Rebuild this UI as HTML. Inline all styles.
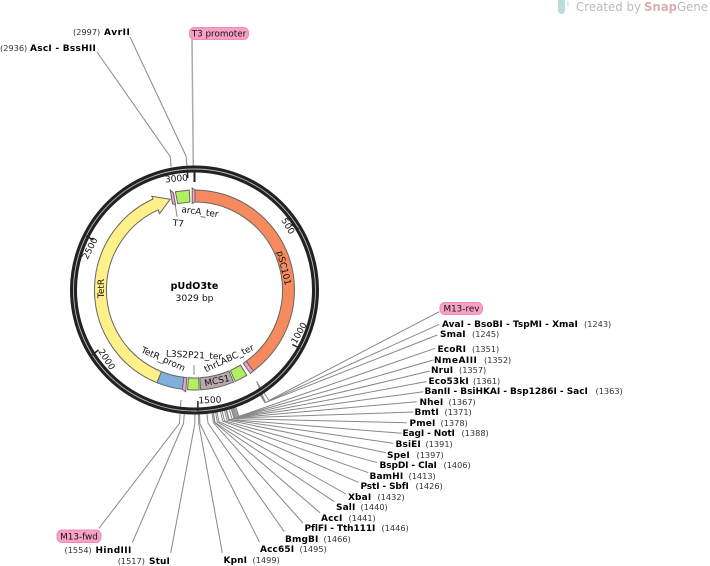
<!DOCTYPE html>
<html><head><meta charset="utf-8"><style>
html,body{margin:0;padding:0;background:#fff}
svg{display:block}
text{font-family:"DejaVu Sans","Liberation Sans",sans-serif;font-size:9px;fill:#111}
.b{font-weight:bold;fill:#000;letter-spacing:.12px}
.n{fill:#333;font-size:8.2px}
.c{text-anchor:middle}
.l{fill:none;stroke:#888;stroke-width:1}
.f{stroke:#666;stroke-width:1}
</style></head><body>
<svg width="710" height="566" viewBox="0 0 710 566" xmlns="http://www.w3.org/2000/svg">
<!-- watermark -->
<path d="M558 0h7v11q-1 3-3.500 3t-3.500-3z" fill="#bcdcdc"/><rect x="567" y="1" width="1.500" height="5" fill="#d5e5e5"/>
<text x="576" y="11" textLength="65" lengthAdjust="spacingAndGlyphs" style="font-size:12px;fill:#bbb">Created by</text>
<text x="644" y="11" textLength="33" lengthAdjust="spacingAndGlyphs" style="font-size:12px;font-weight:bold;fill:#dcaeae">Snap</text>
<text x="677" y="11" textLength="31" lengthAdjust="spacingAndGlyphs" style="font-size:12px;fill:#bbb">Gene</text>
<!-- connectors -->
<g class="l">
<path d="M192 39L193.300 166" stroke="#aaa" stroke-width="1.500"/>
<path d="M130 37L186 156L187 166"/>
<path d="M97 52L170.500 157L171 167"/>
<path d="M99 528.300L179.500 423.300L181 400"/>
<path d="M132.300 542.700L183.500 423.500L184.300 413.600"/>
<path d="M170.700 553L194.800 424L195 414"/>
<path d="M222.300 552.700L198.800 424L198.500 414"/>
<path d="M259.300 541.700L199.900 424L199.500 414"/>
<path d="M284.300 531.700L208.100 423.300L206.800 413.400"/>
<path d="M303 523L213.400 422.700L212 412.800"/>
<path d="M320 512.700L214.700 422.500L213.200 412.600"/>
<path d="M334.300 501.700L215 422.400L213.500 412.500"/>
<path d="M346 494L217.300 422L215.600 412.100"/>
<path d="M358.300 482.300L218.900 421.700L217 411.900"/>
<path d="M368.300 472.700L222.600 421.100L220.500 411.300"/>
<path d="M377.300 462.700L224.400 420.700L222.200 410.900"/>
<path d="M386 452.700L226.900 420L224.500 410.300"/>
<path d="M393.300 443.300L228.500 419.600L226 409.900"/>
<path d="M401.700 433.300L229.200 419.400L226.600 409.800"/>
<path d="M406.700 422.700L231.900 418.600L229.100 409"/>
<path d="M413.300 412L233.900 418.100L231 408.500"/>
<path d="M416.700 401.700L234.800 417.800L231.800 408.300"/>
<path d="M423.300 391.700L235.900 417.400L232.800 407.900"/>
<path d="M426.700 381.500L236.300 417.300L233.200 407.800"/>
<path d="M430 371L237.500 416.900L234.300 407.400"/>
<path d="M433.300 360L238.700 416.500L235.400 407"/>
<path d="M435 348.300L239 416.400L235.700 407"/>
<path d="M437.300 335L265 402.800L260.200 395.200"/>
<path d="M439.300 324.300L265.500 402.400L260.800 394.800"/>
<path d="M439.300 311.700L269 400.500L256.500 381.500"/>
<path d="M265.500 402.400L256.700 381.700"/>
<path d="M175 203L177 216.700"/>
<path d="M194 365V375"/>
</g>
<!-- backbone -->
<circle cx="194.500" cy="290" r="121" fill="none" stroke="#222" stroke-width="7"/>
<circle cx="194.500" cy="290" r="121" fill="none" stroke="#bbb" stroke-width="0.900"/>
<!-- ticks -->
<g stroke="#222" stroke-width="1.500">
<path d="M194.500 172V182" stroke-width="2"/>
<path d="M187.300 169.500L187.800 178"/>
<path d="M298.600 229L291 224.500"/>
<path d="M300.500 348.500L292.300 344.500"/>
<path d="M197.900 411V401"/>
<path d="M92 355L98.500 350"/>
<path d="M86 236L93.500 240"/>
</g>
<!-- features -->
<g class="f">
<path d="M157 382.700A100 100 0 0 1 153 199L151.800 196.300L170.200 199.200L159.600 213.600L158 209.900A88 88 0 0 0 161.500 371.600Z" fill="#fff08a"/>
<path d="M195 190A100 100 0 0 1 253.300 370.900L246.200 361.200A88 88 0 0 0 195 202Z" fill="#f58a5e"/>
<path d="M192.200 188L195 190V202L192.200 203.500Z" fill="#f5a0cc"/>
<path d="M175.400 191.800L189.300 190.100L189.900 202.100L177.700 203.600Z" fill="#b0f060"/>
<path d="M170.300 190L173.500 193L175.500 204.500L172.500 204Z" fill="#f5a0cc"/>
<path d="M246.200 361.200L253.300 370.900L250.500 373.500L243.300 363.500Z" fill="#f5a0cc"/>
<path d="M246.800 375.300A100 100 0 0 1 235.200 381.400L230.300 370.400A88 88 0 0 0 240.500 365.100Z" fill="#b0f060"/>
<path d="M233.600 382.100A100 100 0 0 1 200.600 389.800L199.900 377.800A88 88 0 0 0 228.900 371Z" fill="#b8aaaa"/>
<path d="M199.200 389.900A100 100 0 0 1 187.500 389.800L188.400 377.800A88 88 0 0 0 198.600 377.900Z" fill="#b0f060"/>
<path d="M185.700 391.700L182.300 389.300L183.800 377.300L186.800 377.700Z" fill="#f5a0cc"/>
<path d="M182.300 389.300A100 100 0 0 1 157 382.700L161.500 371.600A88 88 0 0 0 183.800 377.300Z" fill="#7fb0dc"/>
</g>
<!-- tick labels -->
<text class="c" transform="translate(176.700 181.500) rotate(-5)">3000</text>
<text class="c" transform="translate(288 226) rotate(59) translate(0 3)">500</text>
<text class="c" transform="translate(299 333) rotate(-61) translate(0 3)">1000</text>
<text class="c" transform="translate(210 403) rotate(-2)">1500</text>
<text class="c" transform="translate(106.700 359.300) rotate(57) translate(0 3)">2000</text>
<text class="c" transform="translate(90 248.300) rotate(-63) translate(0 3)">2500</text>
<!-- feature labels -->
<text class="c" transform="translate(200 211.700) rotate(8) translate(0 3)">arcA_ter</text>
<text class="c" transform="translate(178.300 223.300) rotate(5) translate(0 3)">T7</text>
<text class="c" transform="translate(284 268) rotate(76) translate(0 3)">pSC101</text>
<text class="c" transform="translate(101 288.500) rotate(-90) translate(0 3)">TetR</text>
<text class="c" transform="translate(217 380.700) rotate(-12) translate(0 3)">MCS1</text>
<text class="c" transform="translate(163.300 359) rotate(24) translate(0 3)">TetR_prom</text>
<text class="c" transform="translate(194 355) rotate(3) translate(0 3)">L3S2P21_ter</text>
<text class="c" transform="translate(229 358.300) rotate(-25) translate(0 3)">thrLABC_ter</text>
<text class="c b" x="194.500" y="289" style="font-size:9.500px">pUdO3te</text>
<text class="c" x="194.500" y="301" style="font-size:9.200px">3029 bp</text>
<!-- pills -->
<g fill="#f7a1c4" stroke="#f28ab6">
<rect x="189.500" y="27.500" width="59" height="12" rx="5"/>
<rect x="440" y="302.500" width="42.500" height="12" rx="5"/>
<rect x="57" y="530" width="44" height="12.500" rx="5"/>
</g>
<text class="c" x="219" y="36.500" style="font-size:8.800px">T3 promoter</text>
<text class="c" x="461.500" y="311.500" style="font-size:8.800px">M13-rev</text>
<text class="c" x="79" y="539.500" style="font-size:8.800px">M13-fwd</text>
<!-- enzyme labels -->
<text x="73" y="35" class="n">(2997)</text><text x="104" y="35" class="b" textLength="26">AvrII</text>
<text x="0" y="51" class="n">(2936)</text><text x="30" y="51" class="b" textLength="66">AscI - BssHII</text>
<text x="442" y="327" class="b" textLength="136">AvaI - BsoBI - TspMI - XmaI</text><text x="584" y="327" class="n">(1243)</text>
<text x="440" y="337" class="b">SmaI</text><text x="472" y="337" class="n">(1245)</text>
<text x="437.500" y="352" class="b">EcoRI</text><text x="472" y="352" class="n">(1351)</text>
<text x="434" y="363" class="b" textLength="43">NmeAIII</text><text x="484" y="363" class="n">(1352)</text>
<text x="431" y="373" class="b">NruI</text><text x="459" y="373" class="n">(1357)</text>
<text x="428.500" y="384" class="b">Eco53kI</text><text x="473" y="384" class="n">(1361)</text>
<text x="424.500" y="394" class="b" textLength="163.500">BanII - BsiHKAI - Bsp1286I - SacI</text><text x="595.500" y="394" class="n">(1363)</text>
<text x="419.500" y="405" class="b">NheI</text><text x="448.500" y="405" class="n">(1367)</text>
<text x="414.500" y="415" class="b">BmtI</text><text x="444.500" y="415" class="n">(1371)</text>
<text x="409.500" y="426" class="b">PmeI</text><text x="440.500" y="426" class="n">(1378)</text>
<text x="402.500" y="436" class="b" textLength="52.500">EagI - NotI</text><text x="461.500" y="436" class="n">(1388)</text>
<text x="395.500" y="447" class="b">BsiEI</text><text x="425.500" y="447" class="n">(1391)</text>
<text x="387" y="458" class="b">SpeI</text><text x="416.500" y="458" class="n">(1397)</text>
<text x="379.500" y="468" class="b" textLength="57.500">BspDI - ClaI</text><text x="443.500" y="468" class="n">(1406)</text>
<text x="369.500" y="479" class="b">BamHI</text><text x="408.500" y="479" class="n">(1413)</text>
<text x="360.500" y="489" class="b" textLength="48.500">PstI - SbfI</text><text x="415.500" y="489" class="n">(1426)</text>
<text x="348" y="500" class="b">XbaI</text><text x="377.500" y="500" class="n">(1432)</text>
<text x="336" y="510" class="b">SalI</text><text x="360.500" y="510" class="n">(1440)</text>
<text x="321" y="521" class="b">AccI</text><text x="348.500" y="521" class="n">(1441)</text>
<text x="304.500" y="531" class="b" textLength="71">PflFI - Tth111I</text><text x="381.500" y="531" class="n">(1446)</text>
<text x="285" y="542" class="b">BmgBI</text><text x="323.500" y="542" class="n">(1466)</text>
<text x="260" y="552" class="b">Acc65I</text><text x="299.500" y="552" class="n">(1495)</text>
<text x="223.500" y="563" class="b">KpnI</text><text x="252.500" y="563" class="n">(1499)</text>
<text x="117.700" y="564" class="n">(1517)</text><text x="149" y="564" class="b">StuI</text>
<text x="64.500" y="553" class="n">(1554)</text><text x="95.500" y="553" class="b" textLength="36">HindIII</text>
</svg>
</body></html>
